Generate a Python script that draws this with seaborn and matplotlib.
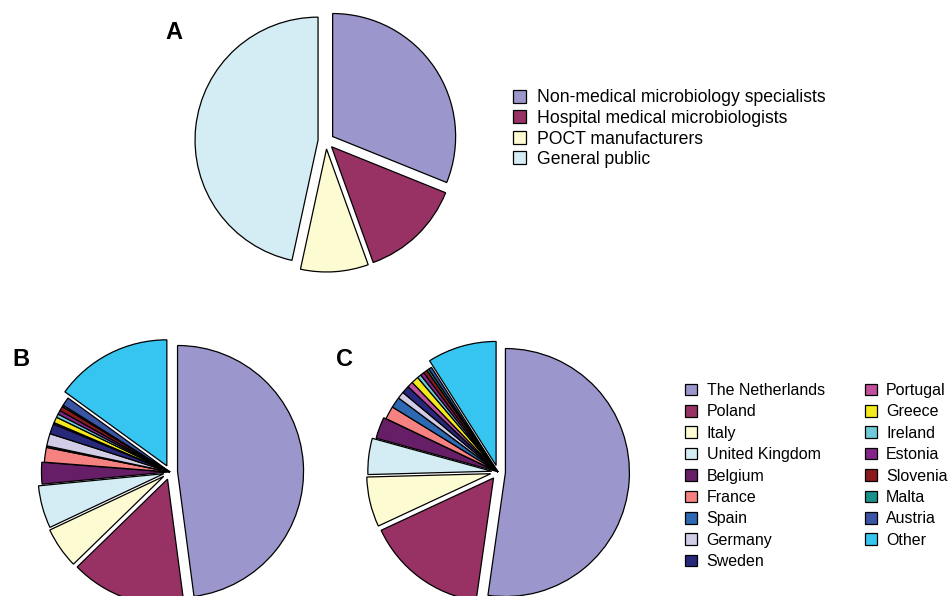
import matplotlib
matplotlib.use("Agg")
import matplotlib.pyplot as plt
import seaborn as sns

# panel A: respondent groups
groups = ["Non-medical microbiology specialists", "Hospital medical microbiologists",
          "POCT manufacturers", "General public"]
group_share = [31.1, 13.4, 8.9, 46.6]
group_colors = ["#9b97cc", "#983265", "#fdfbd2", "#d4edf4"]

# panels B and C: countries
countries = ["The Netherlands", "Poland", "Italy", "United Kingdom", "Belgium", "France",
             "Spain", "Germany", "Sweden", "Portugal", "Greece", "Ireland", "Estonia",
             "Slovenia", "Malta", "Austria", "Other"]
share_b = [48.2, 14.9, 5.3, 5.5, 2.8, 1.9, 0.2, 1.6, 1.3, 0.2, 0.75, 0.45, 0.5,
           0.6, 0.2, 1.1, 15.1]
share_c = [52.2, 15.8, 6.5, 4.7, 2.8, 1.7, 1.4, 0.9, 1.0, 0.75, 0.95, 0.5, 0.5,
           0.5, 0.3, 0.4, 9.0]
country_colors = ["#9b97cc", "#983265", "#fdfbd2", "#d4edf4", "#661f66", "#f58181",
                  "#2d68b2", "#d2cde6", "#27287a", "#c04f9c", "#f2ea1c", "#6fcbd8",
                  "#84258a", "#8c1a1c", "#1b918c", "#3a55a5", "#36c5f0"]

sns.set_theme(style="white")
plt.rcParams["font.family"] = ["Liberation Sans", "DejaVu Sans"]
plt.rcParams["text.color"] = "black"

W, H = 948, 596
fig = plt.figure(figsize=(W / 100, H / 100), dpi=100)


def pie_axes(cx, cy, r):
    # axes placed by pie centre and radius in pixels
    s = 2.2 * r
    ax = fig.add_axes([(cx - s / 2) / W, (H - cy - s / 2) / H, s / W, s / H])
    return ax


def fix_limits(ax):
    ax.set_xlim(-1.1, 1.1)
    ax.set_ylim(-1.1, 1.1)
    ax.set_aspect("equal")
    ax.axis("off")


wp = dict(edgecolor="black", linewidth=0.9)

ax_a = pie_axes(326, 141, 123)
wedges_a, _ = ax_a.pie(group_share, colors=group_colors, startangle=90, counterclock=False,
                       explode=[0.065] * 4, wedgeprops=wp)
fix_limits(ax_a)

big = {"The Netherlands": 0.06, "Poland": 0.06, "Italy": 0.06, "United Kingdom": 0.05,
       "Belgium": 0.02, "Other": 0.055}
explode = [big.get(c, 0.0) for c in countries]

ax_b = pie_axes(170, 472, 126)
wedges_b, _ = ax_b.pie(share_b, colors=country_colors, startangle=90, counterclock=False,
                       explode=explode, wedgeprops=wp)
fix_limits(ax_b)

ax_c = pie_axes(498, 472, 124)
wedges_c, _ = ax_c.pie(share_c, colors=country_colors, startangle=90, counterclock=False,
                       explode=explode, wedgeprops=wp)
fix_limits(ax_c)

for x, y, s in [(173.5, 39, "A"), (20.5, 366, "B"), (344.5, 366, "C")]:
    fig.text(x / W, 1 - y / H, s, fontsize=17, fontweight="bold", ha="center", va="baseline")

leg_kw = dict(loc="upper left", frameon=False, borderpad=0, borderaxespad=0,
              handlelength=0.75, handleheight=0.75, handletextpad=0.6)
fig.legend(wedges_a, groups, bbox_to_anchor=(513 / W, 1 - 89.5 / H), fontsize=12.7,
           labelspacing=0.2, **leg_kw)
fig.legend(wedges_c, countries, ncol=2, columnspacing=2.5, fontsize=11.5, labelspacing=0.4,
           bbox_to_anchor=(685 / W, 1 - 383 / H), **leg_kw)

fig.savefig("out.png", dpi=100)
